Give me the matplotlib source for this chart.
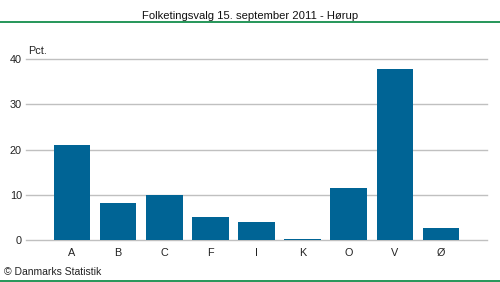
import matplotlib.pyplot as plt
from matplotlib.lines import Line2D

plt.rcParams['font.family'] = ['Liberation Sans', 'DejaVu Sans']

# Folketingsvalg 2011, Hørup - stemmer i pct.
parties = ['A', 'B', 'C', 'F', 'I', 'K', 'O', 'V', 'Ø']
pct = [21.0, 8.2, 10.0, 5.1, 4.0, 0.3, 11.6, 37.8, 2.7]

bar_color = '#006495'
green = '#00843d'

fig = plt.figure(figsize=(5, 2.82), dpi=100)
ax = fig.add_axes([0.052, 0.149, 0.922, 0.641])

ax.bar(range(len(parties)), pct, width=0.79, color=bar_color, zorder=3)
ax.set_xlim(-1, len(parties))
ax.set_ylim(0, 40)
ax.set_yticks([0, 10, 20, 30, 40])
ax.set_xticks(range(len(parties)))
ax.set_xticklabels(parties)
ax.yaxis.grid(True, color='#c0c0c0', linewidth=1.0, zorder=0)
for gl in ax.get_ygridlines():
    gl.set_clip_on(False)
for s in ax.spines.values():
    s.set_visible(False)
ax.tick_params(length=0, labelsize=7.8, colors='#222222', pad=3)
ax.tick_params(axis='x', pad=6)

ax.text(0.005, 1.02, 'Pct.', transform=ax.transAxes, fontsize=7.8,
        color='#222222', va='bottom', ha='left')

fig.text(0.5, 0.945, 'Folketingsvalg 15. september 2011 - Hørup',
         ha='center', va='center', fontsize=8.1, color='#111111')
fig.add_artist(Line2D([0, 1], [0.922, 0.922], transform=fig.transFigure,
                      color=green, linewidth=1.2))
fig.add_artist(Line2D([0, 1], [0.003, 0.003], transform=fig.transFigure,
                      color=green, linewidth=1.2))
fig.text(0.008, 0.035, '© Danmarks Statistik', ha='left', va='center',
         fontsize=7.5, color='#222222')

fig.savefig('out.png', dpi=100)
